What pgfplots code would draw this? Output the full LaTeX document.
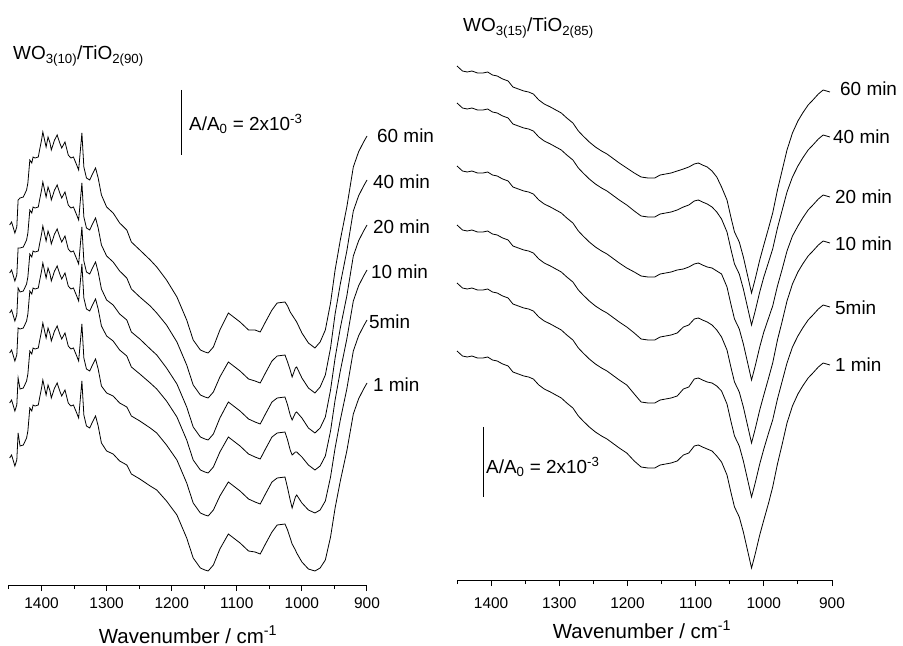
\documentclass[border=0pt]{standalone}
\usepackage{fontspec}
\setmainfont{Liberation Sans}
\usepackage{pgfplots}
\usepackage{pgfplotstable}
\pgfplotsset{compat=1.18}

% Left panel: WO3(10)/TiO2(90); offsets in px-like units above the axis line
\pgfplotstableread{
wn c1 c2 c3 c4 c5 c6
1449 360 312 272 232 182 127
1446 363 315 275 235 185 130
1441 352 304 264 224 174 119
1438 358 310 270 230 180 125
1436 385 337 297 257 207 152
1433 387 337 293 256 196 139
1428 388 338 294 257 197 140
1423 395 345 301 264 204 147
1421 402 352 308 271 211 154
1418 425 375 331 294 234 177
1415 422 372 328 291 231 174
1413 428 378 334 297 237 180
1410 427 377 333 296 236 179
1405 428 378 334 297 237 180
1403 435 385 341 304 244 187
1400 445 395 351 314 254 197
1398 453 403 359 322 262 205
1393 438 388 344 307 247 190
1390 448 398 354 317 257 200
1387 442 392 348 311 251 194
1385 435 385 341 304 244 187
1380 445 395 351 314 254 197
1376 450 400 356 319 259 202
1372 442 392 348 311 251 194
1369 437 387 343 306 246 189
1364 443 393 349 312 252 195
1359 430 380 336 299 239 182
1355 427 377 333 296 236 179
1351 428 378 334 297 237 180
1346 420 370 326 289 229 172
1343 415 365 321 284 224 167
1338 452 402 358 321 261 204
1335 418 368 324 287 227 170
1331 407 357 313 276 216 159
1326 405 355 311 274 214 157
1321 412 362 318 281 221 164
1317 417 367 323 286 226 169
1313 407 357 313 276 216 159
1308 390 340 296 259 199 142
1300 378 329 285 249 192 134
1290 372 323 280 244 189 131
1280 362 314 271 235 182 124
1269 355 307 265 229 178 120
1262 343 296 253 218 169 111
1249 335 288 246 211 164 106
1233 325 279 236 202 157 99
1223 318 272 230 196 152 95
1208 305 260 217 184 140 84
1192 288 243 201 168 125 70
1177 265 220 178 145 102 47
1167 245 200 158 125 82 27
1156 235 190 148 115 72 17
1149 233 188 146 113 70 15
1144 232 187 145 112 69 14
1136 238 193 151 118 75 20
1126 255 208 167 133 89 36
1113 272 223 183 148 103 51
1105 268 219 179 144 99 47
1095 263 214 174 139 94 42
1082 255 206 166 131 86 34
1072 255 204 163 128 83 33
1064 253 202 161 126 81 31
1056 263 212 171 136 91 41
1046 275 224 183 148 103 53
1038 282 229 187 152 107 60
1026 283 230 188 153 108 61
1022 279 223 180 145 97 55
1018 273 215 170 135 85 47
1015 270 208 165 130 77 41
1010 265 217 172 133 88 35
1008 263 218 173 133 90 32
1000 252 207 167 128 82 23
990 242 197 157 120 75 16
980 237 192 152 115 72 14
972 243 198 157 119 75 17
964 255 210 168 129 84 25
956 282 237 195 154 108 48
949 315 271 227 185 137 77
941 345 301 257 214 165 104
931 378 334 289 246 196 134
921 418 374 329 284 234 171
913 433 389 344 299 249 186
906 442 398 353 308 258 195
900 449 405 360 315 265 202
}\leftdata

% Right panel: WO3(15)/TiO2(85)
\pgfplotstableread{
wn c1 c2 c3 c4 c5 c6
1450 514 477 414 355 297 229
1442 509 472 409 350 292 224
1435 508 471 408 349 291 223
1428 509 472 409 350 292 224
1420 507 470 407 348 290 222
1412 507 470 407 348 290 222
1405 508 471 408 349 291 223
1398 505 468 405 346 288 220
1391 504 467 404 345 287 219
1383 501 464 401 342 284 216
1375 499 462 399 340 282 214
1368 493 456 393 334 276 208
1360 491 454 391 332 274 206
1352 489 452 389 330 272 204
1345 488 451 388 329 271 203
1338 486 449 386 327 269 201
1330 480 443 380 321 263 195
1322 476 439 376 317 259 191
1313 473 436 373 314 256 188
1305 470 433 370 311 253 185
1297 467 430 367 308 250 182
1289 462 425 362 303 245 177
1280 457 420 357 298 240 172
1272 449 412 349 290 232 164
1265 444 407 344 285 227 159
1256 438 401 338 279 221 153
1247 433 396 333 274 216 148
1238 429 392 329 270 212 144
1230 426 389 326 267 209 141
1222 422 385 322 263 205 137
1212 417 380 317 258 200 132
1201 412 375 312 253 195 127
1190 407 369 308 247 186 119
1180 403 364 304 241 178 113
1170 402 363 303 240 177 112
1160 402 363 303 240 177 112
1152 405 366 306 243 180 115
1144 406 367 307 244 181 116
1136 407 368 308 245 182 117
1127 409 370 310 247 184 119
1118 411 373 311 253 191 125
1110 413 375 313 255 193 127
1102 416 379 316 261 201 134
1096 417 380 317 262 202 135
1090 415 378 315 260 200 133
1083 413 376 313 258 198 131
1076 409 373 312 255 197 129
1069 403 368 309 250 194 124
1062 393 361 306 243 189 118
1054 380 348 293 230 176 105
1048 362 330 275 212 158 87
1043 348 316 261 198 144 73
1036 338 306 251 188 134 63
1030 323 291 236 173 119 48
1024 305 273 218 155 101 30
1018 287 255 200 137 83 12
1013 300 268 213 150 96 25
1006 320 288 233 170 116 45
1000 335 303 248 185 131 60
993 352 318 262 202 147 77
987 367 331 274 217 160 93
980 390 352 294 240 181 116
973 410 370 311 259 199 136
966 430 388 329 279 217 157
958 447 403 344 296 233 174
950 459 414 354 308 244 186
943 467 422 362 316 252 194
935 475 430 370 324 260 202
928 480 435 375 329 265 207
920 486 441 381 335 271 213
913 490 445 385 339 275 217
908 489 444 384 338 274 216
903 488 443 383 337 273 215
}\rightdata

\pgfplotsset{
  spec/.style={
    scale only axis, xmin=900, xmax=1450, x dir=reverse, ymin=0,
    axis x line=bottom, axis y line=none,
    axis line style={-, line width=1bp},
    tick align=outside,
    xtick={900,1000,...,1400}, minor xtick={950,1050,1150,1250,1350,1450},
    major tick length=6bp, minor tick length=4bp,
    every tick/.style={black, line width=1bp},
    xticklabel style={font=\fontsize{15.5}{18}\selectfont, yshift=-3bp},
    /pgf/number format/assume math mode=true,
    /pgf/number format/1000 sep={},
    clip=false,
  },
  sp/.style={black, line width=0.8bp, mark=none},
}

\begin{document}
\begin{tikzpicture}
\useasboundingbox (0,0) rectangle (903bp,646bp);

\begin{axis}[spec, at={(188bp,61bp)}, anchor=south, width=358bp, height=585bp, ymax=585]
\addplot[sp] table[x=wn,y=c1]{\leftdata};
\addplot[sp] table[x=wn,y=c2]{\leftdata};
\addplot[sp] table[x=wn,y=c3]{\leftdata};
\addplot[sp] table[x=wn,y=c4]{\leftdata};
\addplot[sp] table[x=wn,y=c5]{\leftdata};
\addplot[sp] table[x=wn,y=c6]{\leftdata};
\end{axis}

\begin{axis}[spec, at={(644.5bp,66bp)}, anchor=south, width=375bp, height=580bp, ymax=580,
  xticklabel style={yshift=-5bp}]
\addplot[sp] table[x=wn,y=c1]{\rightdata};
\addplot[sp] table[x=wn,y=c2]{\rightdata};
\addplot[sp] table[x=wn,y=c3]{\rightdata};
\addplot[sp] table[x=wn,y=c4]{\rightdata};
\addplot[sp] table[x=wn,y=c5]{\rightdata};
\addplot[sp] table[x=wn,y=c6]{\rightdata};
\end{axis}

\tikzset{lab/.style={anchor=west, inner sep=0pt, font=\fontsize{19}{22}\selectfont}}
% left panel annotations
\node[anchor=base west, inner sep=0pt, font=\fontsize{19}{22}\selectfont] at (13bp,586bp) {WO\textsubscript{3(10)}/TiO\textsubscript{2(90)}};
\draw[line width=1bp] (181bp,556bp) -- (181bp,491bp);
\node[lab] at (189bp,522bp) {A/A\textsubscript{0} = 2x10\textsuperscript{-3}};
\node[lab] at (377bp,510bp) {60 min};
\node[lab] at (373bp,464bp) {40 min};
\node[lab] at (373bp,419bp) {20 min};
\node[lab] at (371bp,374bp) {10 min};
\node[lab] at (369bp,324bp) {5min};
\node[lab] at (373bp,261bp) {1 min};
\node[anchor=base, inner sep=0pt, font=\fontsize{20.5}{24}\selectfont] at (188bp,3bp) {Wavenumber / cm\textsuperscript{-1}};
% right panel annotations
\node[anchor=base west, inner sep=0pt, font=\fontsize{19}{22}\selectfont] at (463bp,614bp) {WO\textsubscript{3(15)}/TiO\textsubscript{2(85)}};
\draw[line width=1bp] (483bp,219bp) -- (483bp,149bp);
\node[lab] at (486bp,179bp) {A/A\textsubscript{0} = 2x10\textsuperscript{-3}};
\node[lab] at (840bp,557bp) {60 min};
\node[lab] at (833bp,509bp) {40 min};
\node[lab] at (835bp,449bp) {20 min};
\node[lab] at (835bp,402bp) {10 min};
\node[lab] at (835bp,338bp) {5min};
\node[lab] at (835bp,281bp) {1 min};
\node[anchor=base, inner sep=0pt, font=\fontsize{20.5}{24}\selectfont] at (642bp,8bp) {Wavenumber / cm\textsuperscript{-1}};
\end{tikzpicture}
\end{document}
